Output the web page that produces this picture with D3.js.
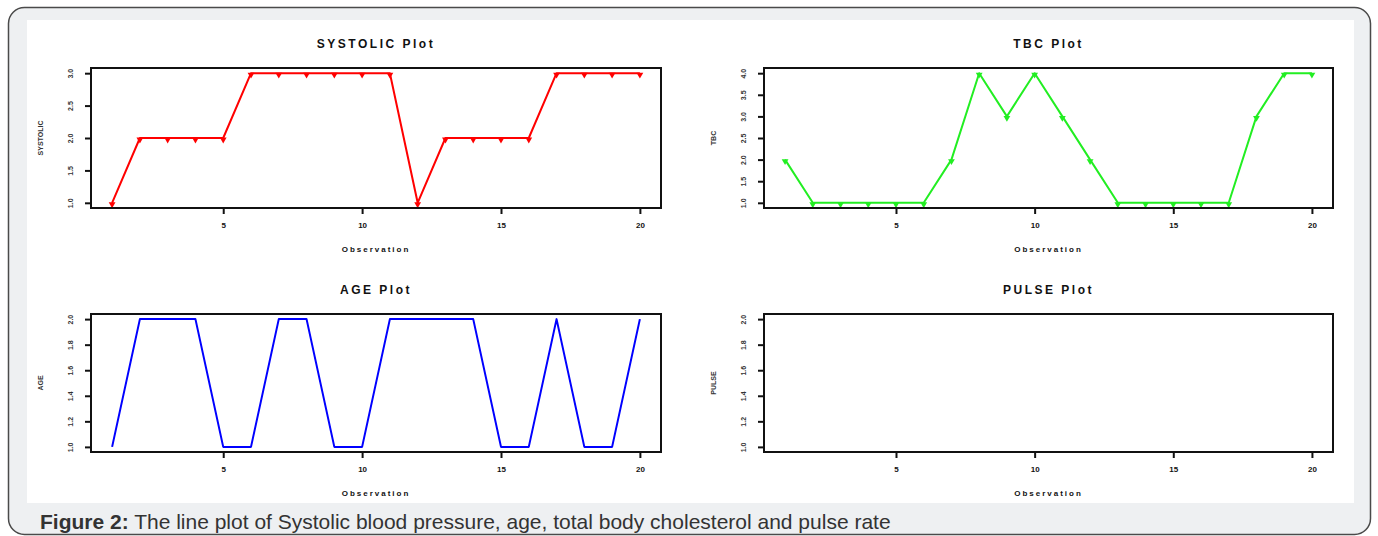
<!DOCTYPE html>
<html>
<head>
<meta charset="utf-8">
<script src="https://cdn.jsdelivr.net/npm/d3@7"></script>
<style>
  html, body { margin: 0; padding: 0; background: #fff; }
  svg { display: block; }
</style>
</head>
<body>
<div id="chart"></div>
<script>
// === DATA ===
const observations = d3.range(1, 21);
const systolic = [1, 2, 2, 2, 2, 3, 3, 3, 3, 3, 3, 1, 2, 2, 2, 2, 3, 3, 3, 3];
const tbc = [2, 1, 1, 1, 1, 1, 2, 4, 3, 4, 3, 2, 1, 1, 1, 1, 1, 3, 4, 4];
const age = [1, 2, 2, 2, 1, 1, 2, 2, 1, 1, 2, 2, 2, 2, 1, 1, 2, 1, 1, 2];
const pulse = []; // nothing drawn in the PULSE panel

const xTicks = [5, 10, 15, 20];
const systolicTicks = [1, 1.5, 2, 2.5, 3];
const tbcTicks = [1, 1.5, 2, 2.5, 3, 3.5, 4];
const ageTicks = [1, 1.2, 1.4, 1.6, 1.8, 2];
const pulseTicks = [1, 1.2, 1.4, 1.6, 1.8, 2];

const caption = "The line plot of Systolic blood pressure, age, total body cholesterol and pulse rate";

// === LAYOUT ===
const W = 1378, H = 536;
const cols = [{ left: 91, right: 661 }, { left: 764, right: 1333 }];
const rows = [{ top: 68, bottom: 208 }, { top: 314, bottom: 452 }];

const panels = [
  { title: "SYSTOLIC Plot", ylab: "SYSTOLIC", values: systolic, ticks: systolicTicks, dom: [1, 3], color: "#ff0000", markers: true, col: 0, row: 0 },
  { title: "TBC Plot", ylab: "TBC", values: tbc, ticks: tbcTicks, dom: [1, 4], color: "#22ee22", markers: true, col: 1, row: 0 },
  { title: "AGE Plot", ylab: "AGE", values: age, ticks: ageTicks, dom: [1, 2], color: "#0000ff", markers: false, col: 0, row: 1 },
  { title: "PULSE Plot", ylab: "PULSE", values: pulse, ticks: pulseTicks, dom: [1, 2], color: "#000000", markers: false, col: 1, row: 1 }
];

const svg = d3.select("#chart").append("svg")
  .attr("width", W)
  .attr("height", H);

// card + white figure area
svg.append("rect")
  .attr("x", 8.5).attr("y", 7.5)
  .attr("width", 1362).attr("height", 527)
  .attr("rx", 16)
  .attr("fill", "#eef0f2")
  .attr("stroke", "#4a4a4a")
  .attr("stroke-width", 1.5);

svg.append("rect")
  .attr("x", 27).attr("y", 20)
  .attr("width", 1327).attr("height", 483)
  .attr("fill", "#fff");

const cap = svg.append("text")
  .attr("x", 40).attr("y", 529)
  .style("font-family", "Liberation Sans, Arial, sans-serif")
  .style("font-size", "21px")
  .attr("fill", "#333");
cap.append("tspan").style("font-weight", "bold").text("Figure 2:");
cap.append("tspan").text(" " + caption);

// R-style 4% axis extension
function extend([a, b]) {
  const pad = (b - a) * 0.04;
  return [a - pad, b + pad];
}

const fontFam = "Liberation Sans, Arial, sans-serif";

panels.forEach(p => {
  const c = cols[p.col], r = rows[p.row];
  const x = d3.scaleLinear().domain(extend([1, 20])).range([c.left, c.right]);
  const y = d3.scaleLinear().domain(extend(p.dom)).range([r.bottom, r.top]);
  const g = svg.append("g");

  // title
  g.append("text")
    .attr("x", (c.left + c.right) / 2)
    .attr("y", r.top - 20)
    .attr("text-anchor", "middle")
    .style("font-family", fontFam)
    .style("font-size", "12px")
    .style("font-weight", "bold")
    .style("letter-spacing", "2.5px")
    .attr("fill", "#111")
    .text(p.title);

  // x axis
  const xAxis = g.append("g")
    .attr("transform", `translate(0,${r.bottom})`)
    .call(d3.axisBottom(x).tickValues(xTicks).tickSize(6).tickPadding(8).tickFormat(d3.format("d")));
  xAxis.select(".domain").remove();
  xAxis.selectAll("line").attr("stroke", "#111").attr("stroke-width", 2);
  xAxis.selectAll("text")
    .style("font-family", fontFam)
    .style("font-size", "8px")
    .style("font-weight", "bold")
    .attr("fill", "#111");

  g.append("text")
    .attr("x", (c.left + c.right) / 2)
    .attr("y", r.bottom + 44)
    .attr("text-anchor", "middle")
    .style("font-family", fontFam)
    .style("font-size", "8px")
    .style("font-weight", "bold")
    .style("letter-spacing", "2px")
    .attr("fill", "#111")
    .text("Observation");

  // y axis
  const yAxis = g.append("g")
    .attr("transform", `translate(${c.left},0)`)
    .call(d3.axisLeft(y).tickValues(p.ticks).tickSize(6).tickPadding(0).tickFormat(d3.format(".1f")));
  yAxis.select(".domain").remove();
  yAxis.selectAll("line").attr("stroke", "#111").attr("stroke-width", 2);
  yAxis.selectAll("text")
    .attr("x", null).attr("dy", null)
    .attr("transform", "translate(-21,0) rotate(-90)")
    .attr("text-anchor", "middle")
    .attr("dominant-baseline", "central")
    .style("font-family", fontFam)
    .style("font-size", "7px")
    .style("font-weight", "bold")
    .attr("fill", "#333");

  g.append("text")
    .attr("transform", `translate(${c.left - 51},${(r.top + r.bottom) / 2}) rotate(-90)`)
    .attr("text-anchor", "middle")
    .attr("dominant-baseline", "central")
    .style("font-family", fontFam)
    .style("font-size", "7px")
    .style("font-weight", "bold")
    .attr("fill", "#333")
    .text(p.ylab);

  // series
  const pts = p.values.map((v, i) => ({ obs: observations[i], v }));
  const line = d3.line().x(d => x(d.obs)).y(d => y(d.v));
  g.append("path")
    .datum(pts)
    .attr("fill", "none")
    .attr("stroke", p.color)
    .attr("stroke-width", 2)
    .attr("stroke-linejoin", "round")
    .attr("d", line);

  if (p.markers) {
    g.selectAll("path.mark")
      .data(pts)
      .join("path")
      .attr("class", "mark")
      .attr("transform", d => `translate(${x(d.obs)},${y(d.v) + 1.5}) rotate(180)`)
      .attr("d", d3.symbol(d3.symbolTriangle, 20))
      .attr("fill", p.color);
  }

  // frame
  g.append("rect")
    .attr("x", c.left).attr("y", r.top)
    .attr("width", c.right - c.left).attr("height", r.bottom - r.top)
    .attr("fill", "none")
    .attr("stroke", "#111")
    .attr("stroke-width", 2);
});
</script>
</body>
</html>
